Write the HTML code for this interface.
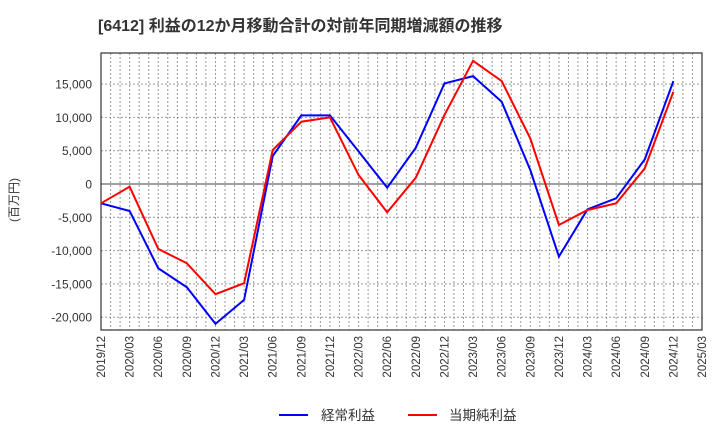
<!DOCTYPE html>
<html><head><meta charset="utf-8"><style>
body{margin:0;background:#fff;font-family:"Liberation Sans","Noto Sans CJK JP",sans-serif}
</style></head><body>
<svg id="c" width="720" height="440" xmlns="http://www.w3.org/2000/svg">
<text x="98" y="31" font-size="16" font-weight="bold" fill="#333">[6412]  利益の12か月移動合計の対前年同期増減額の推移</text>
<text transform="translate(18,200) rotate(-90)" text-anchor="middle" font-size="12" fill="#333">(百万円)</text>
<g id="grid"></g><g id="axes"></g><g id="series"></g>
<g>
<line x1="279" y1="415" x2="308" y2="415" stroke="#0000ff" stroke-width="2"/>
<text x="321" y="420" font-size="13.5" fill="#333">経常利益</text>
<line x1="408" y1="415" x2="437" y2="415" stroke="#ff0000" stroke-width="2"/>
<text x="449" y="420" font-size="13.5" fill="#333">当期純利益</text>
</g>
</svg>
<script>
const categories=["2019/12","2020/03","2020/06","2020/09","2020/12","2021/03","2021/06","2021/09","2021/12","2022/03","2022/06","2022/09","2022/12","2023/03","2023/06","2023/09","2023/12","2024/03","2024/06","2024/09","2024/12","2025/03"];
const keijo=[-2900,-4050,-12650,-15500,-21000,-17400,4200,10300,10300,4900,-550,5450,15100,16200,12350,2100,-10900,-3800,-2150,3700,15450];
const junri=[-2900,-400,-9750,-11900,-16550,-14900,5100,9350,10000,1350,-4250,950,10350,18500,15450,6850,-6150,-3900,-2900,2350,13850];
const yTicks=[-20000,-15000,-10000,-5000,0,5000,10000,15000];
const L=101,R=702,T=53,B=330,yMin=-21920,yMax=19670;
const NS="http://www.w3.org/2000/svg";
const x=i=>L+(R-L)*i/(categories.length-1);
const y=v=>B-(v-yMin)/(yMax-yMin)*(B-T);
function mk(tag,attrs,parent){const e=document.createElementNS(NS,tag);for(const k in attrs)e.setAttribute(k,attrs[k]);parent.appendChild(e);return e;}
const grid=document.getElementById('grid'),axes=document.getElementById('axes'),ser=document.getElementById('series');
const nMonths=(categories.length-1)*3;
for(let m=1;m<nMonths;m++){const xx=L+(R-L)*m/nMonths;const g=mk('line',{x1:xx,x2:xx,y1:T,y2:B,stroke:'#999','stroke-dasharray':'2,2','stroke-width':1},grid);

}
yTicks.forEach(t=>{const yy=y(t);
const g=mk('line',{x1:L,x2:R,y1:yy,y2:yy,stroke:t===0?'#666':'#999','stroke-dasharray':t===0?'':'2,2','stroke-width':t===0?1.3:1},grid);


const tx=mk('text',{x:92,y:yy+4.5,'text-anchor':'end','font-size':12,fill:'#333'},axes);tx.textContent=t.toLocaleString('en-US');

});
categories.forEach((c,i)=>{const tx=mk('text',{transform:`translate(${x(i)+4},${B+6}) rotate(-90)`,'text-anchor':'end','font-size':11.5,fill:'#333'},axes);tx.textContent=c;

});
const fr=mk('rect',{x:L,y:T,width:R-L,height:B-T,fill:'none',stroke:'#333','stroke-width':1.2},axes);


function line(arr,col,name){const p=mk('polyline',{points:arr.map((v,i)=>x(i)+','+y(v)).join(' '),fill:'none',stroke:col,'stroke-width':2},ser);

}
line(keijo,'#0000ff','keijo-line');
line(junri,'#ff0000','junri-line');
</script>
</body></html>
